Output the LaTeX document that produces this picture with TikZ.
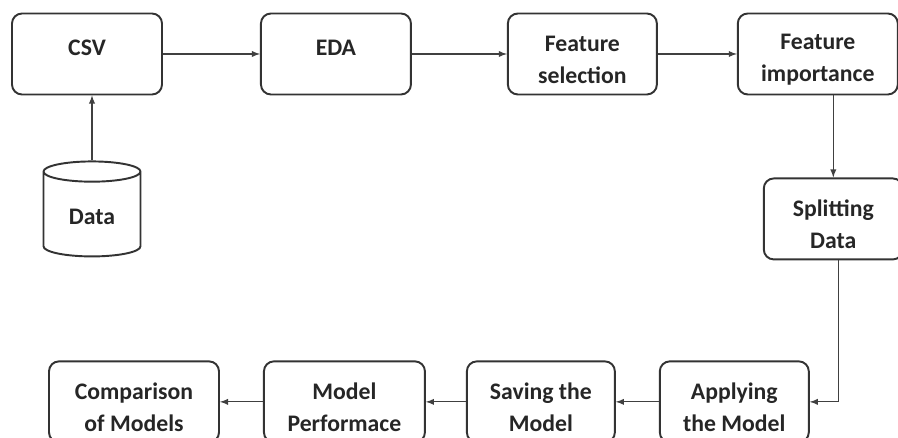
\documentclass[tikz,border=0pt]{standalone}
\usepackage{fontspec}
\setmainfont{Carlito}
\usetikzlibrary{arrows}
\usetikzlibrary{positioning,shapes.geometric}
\newcommand{\lift}{\rule{0pt}{15.3pt}}

\begin{document}
\begin{tikzpicture}[auto,>=latex,
			stage/.style={rectangle,rounded corners=2mm,draw=black!80,line width=1.1pt,
				font=\bfseries\fontsize{13.5}{18}\selectfont,text=black!85,align=center,
				minimum width=3cm,minimum height=1.62cm,inner sep=2pt},
			single/.style={text height=9.6pt,text depth=7.7pt},
			store/.style={cylinder,shape border rotate=90,aspect=0.35,draw=black!80,
				line width=1.1pt,font=\bfseries\fontsize{13.5}{18}\selectfont,text=black!85,
				minimum width=1.94cm,minimum height=1.9cm},
			link/.style={->,color=black!75,line width=0.6pt}]
			
			\useasboundingbox (0,0) rectangle (17.96,-8.76);
			
			\node[stage,single] (csv) at (1.74,-1.08) {CSV};
			\node[stage,single] (eda) [right=1.94cm of csv] {EDA};
			\node[stage,minimum width=2.98cm] (select) [right=1.9cm of eda] {\lift Feature\\selection};
			\node[stage,minimum width=3.2cm] (importance) [right=1.58cm of select] {\lift Feature\\importance};
			\node[stage,minimum width=2.78cm] (split) [below=1.64cm of importance,xshift=0.31cm] {\lift Splitting\\Data};
			\node[stage,minimum width=2.98cm] (apply) [below=2cm of split,xshift=-1.98cm] {\lift Applying\\the Model};
			\node[stage,minimum width=2.96cm] (save) [left=0.86cm of apply] {\lift Saving the\\Model};
			\node[stage,minimum width=3.22cm] (perf) [left=0.8cm of save] {\lift Model\\Performace};
			\node[stage,minimum width=3.4cm] (compare) [left=0.86cm of perf] {\lift Comparison\\of Models};
			\node[store] (data) [below=1.3cm of csv,xshift=0.1cm] {Data};
			
			\path[link]
			(data.north) edge (data.north |- csv.south)
			(csv) edge (eda)
			(eda) edge (select)
			(select) edge (importance)
			(split.north |- importance.south) edge (split.north)
			(apply) edge (save)
			(save) edge (perf)
			(perf) edge (compare);
			\draw[link] ([xshift=0.11cm]split.south) |- (apply.east);
			
		\end{tikzpicture}
\end{document}
